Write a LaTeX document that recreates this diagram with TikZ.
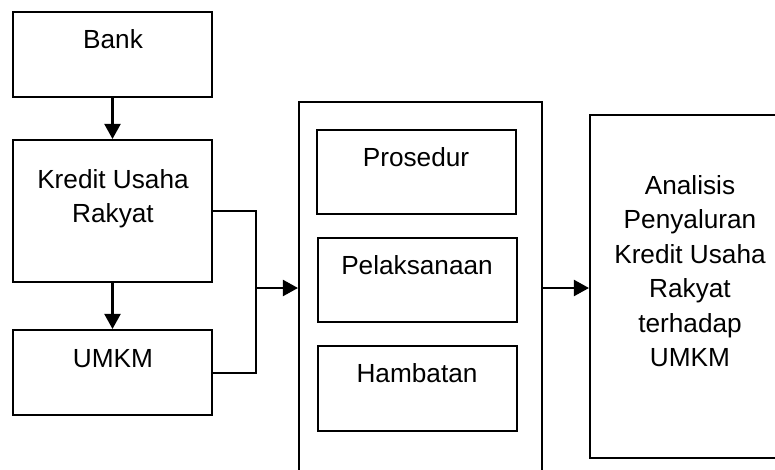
\documentclass[tikz,border=0pt]{standalone}
\usepackage{fontspec}
\setmainfont{Liberation Sans}
\usetikzlibrary{arrows.meta}
\newcommand{\boxlines}[1]{\begin{tabular}[t]{@{}c@{}}#1\end{tabular}}
\begin{document}
\begin{tikzpicture}[x=1pt,y=-1pt,
  box/.style={draw, line width=2.1pt, inner sep=0pt},
  lbl/.style={anchor=base, inner sep=0pt, font=\fontsize{26.2}{34.5}\selectfont},
  arr/.style={line width=2.1pt, -{Triangle[length=15pt,width=16pt]}},
  wire/.style={line width=2.1pt}]
\fill[white] (0,0) rectangle (775,469);
\useasboundingbox (0,0) rectangle (775,469);
% left column
\node[box, minimum width=199pt, minimum height=85pt] (bank) at (112.5,54.5) {};
\node[box, minimum width=199pt, minimum height=142pt] (kur) at (112.5,211) {};
\node[box, minimum width=199pt, minimum height=85pt] (umkm) at (112.5,372.5) {};
% middle and right (cropped by the picture edge)
\begin{scope}
  \clip (0,0) rectangle (775,469);
  \node[box, minimum width=243pt, minimum height=398pt] (mid) at (420.5,301) {};
  \node[box, minimum width=210pt, minimum height=343pt] (res) at (695,286.5) {};
\end{scope}
\node[box, minimum width=199pt, minimum height=84pt] (pro) at (416.5,172) {};
\node[box, minimum width=199pt, minimum height=84pt] (pel) at (417.5,280) {};
\node[box, minimum width=199pt, minimum height=85pt] (ham) at (417.5,388.5) {};
% texts
\node[lbl] (tbank) at (113,48) {Bank};
\node[lbl] (tkur) at (113,188) {\boxlines{Kredit Usaha\\Rakyat}};
\node[lbl] (tumkm) at (113,367) {UMKM};
\node[lbl] (tpro) at (416,166) {Prosedur};
\node[lbl] (tpel) at (417,274) {Pelaksanaan};
\node[lbl] (tham) at (417,382) {Hambatan};
\node[lbl] (tres) at (690,194) {\boxlines{Analisis\\Penyaluran\\Kredit Usaha\\Rakyat\\terhadap\\UMKM}};
% connectors
\coordinate (j1) at (256,211);
\coordinate (j2) at (256,373);
\coordinate (jm) at (256,288);
\draw[arr] (bank.south) -- (kur.north);
\draw[arr] (kur.south) -- (umkm.north);
\draw[wire] (kur.east |- j1) -- (j1) -- (j2) -- (umkm.east |- j2);
\draw[arr] (jm) -- (jm -| mid.west);
\draw[arr] (mid.east |- jm) -- (jm -| res.west);
\end{tikzpicture}
\end{document}
